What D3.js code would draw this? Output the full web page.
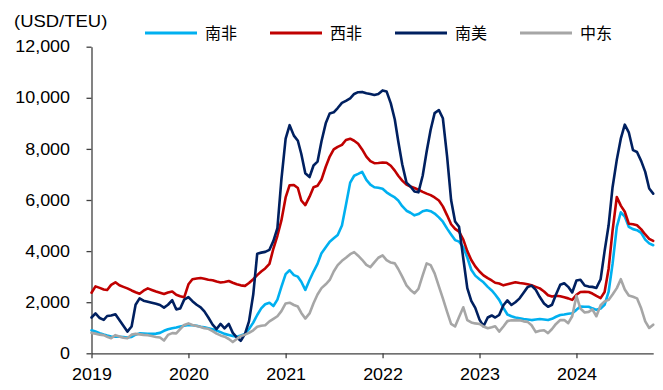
<!DOCTYPE html>
<html>
<head>
<meta charset="utf-8">
<script src="https://cdn.jsdelivr.net/npm/d3@7"></script>
<style>
  body { margin: 0; background: #fff; }
  svg { display: block; }
</style>
</head>
<body>
<svg id="chart" width="663" height="390"></svg>
<script>
// Container freight rates by route, USD/TEU, semi-monthly readings
const seriesNames = ["南非", "西非", "南美", "中东"];
const seriesColors = ["#00B0F0", "#C00000", "#002060", "#A6A6A6"];
const yTickValues = [0, 2000, 4000, 6000, 8000, 10000, 12000];
const xTickYears = [2019, 2020, 2021, 2022, 2023, 2024];
const unitLabel = "(USD/TEU)";

// Observation dates: 1st and 16th of each month, Jan 2019 – Oct 2024
const dates = d3.timeMonth.range(new Date(2019, 0, 1), new Date(2024, 10, 1))
  .flatMap(m => [m, new Date(m.getFullYear(), m.getMonth(), 16)]);

const southAfrica = [
  900, 850, 790, 740, 700, 660, 650, 650, 640, 620,
  640, 730, 780, 770, 760, 760, 770, 800, 880, 940,
  980, 1010, 1050, 1080, 1110, 1100, 1080, 1040, 1020, 980,
  940, 890, 830, 760, 720, 680, 650, 700, 760, 950,
  1200, 1500, 1760, 1920, 1980, 1850, 2100, 2600, 3100, 3250,
  3060, 3000, 2800, 2480, 2870, 3200, 3500, 3920, 4150, 4370,
  4500, 4630, 5000, 5800, 6680, 6950, 7020, 7100, 6790, 6600,
  6500, 6480, 6440, 6300, 6190, 6100, 5980, 5760, 5580, 5500,
  5400, 5450, 5560, 5600, 5560, 5470, 5320, 5150, 4880, 4650,
  4430, 4370, 4150, 3750, 3270, 3040, 2900, 2780, 2600, 2460,
  2300, 2090, 1780, 1520, 1450, 1400, 1370, 1340, 1320, 1300,
  1320, 1340, 1320, 1300, 1350, 1430, 1500, 1520, 1550, 1570,
  1700, 1830, 1820, 1820, 1760, 1700, 1750, 1900, 2400, 3500,
  4950, 5520, 5350, 4950, 4860, 4820, 4710, 4450, 4300, 4230
];

const westAfrica = [
  2370, 2620, 2560, 2500, 2480, 2680, 2780, 2660, 2600, 2540,
  2460, 2390, 2330, 2450, 2540, 2480, 2420, 2370, 2320, 2380,
  2420, 2290, 2230, 2190, 2700, 2900, 2930, 2950, 2920, 2880,
  2860, 2810, 2770, 2790, 2830, 2760, 2700, 2660, 2640, 2750,
  2900, 3060, 3200, 3320, 3500, 4100, 4600, 5200, 6100, 6580,
  6590, 6470, 5980, 5800, 6130, 6500, 6560, 6800, 7300, 7700,
  7980, 8080, 8160, 8350, 8400, 8320, 8200, 7980, 7700, 7520,
  7440, 7450, 7470, 7460, 7340, 7150, 6950, 6760, 6600, 6530,
  6470, 6400, 6320, 6250, 6190, 6100, 5980, 5750, 5400, 5050,
  4870, 4760, 4450, 4000, 3650, 3400, 3200, 3050, 2940, 2850,
  2760, 2730, 2660, 2700, 2740, 2780, 2750, 2730, 2700, 2660,
  2600, 2540, 2420, 2270, 2220, 2250, 2230, 2190, 2150, 2090,
  2290, 2400, 2410, 2400, 2340, 2250, 2160, 2400, 3300, 4800,
  6120, 5780, 5540, 5070, 5050, 5010, 4850, 4650, 4480, 4400
];

const southAmerica = [
  1400, 1560, 1380, 1310, 1460, 1480, 1530, 1300, 1080, 850,
  1050, 1900, 2150, 2060, 2020, 1980, 1940, 1890, 1790, 1900,
  2080, 1720, 1750, 2100, 2200, 2040, 1900, 1800, 1640, 1400,
  1120, 950, 1150, 980, 1150, 800, 620, 490, 760, 1250,
  2300, 3900, 3940, 3970, 4050, 4400, 4900, 6800, 8400, 8930,
  8520, 8320, 7800, 7050, 6900, 7350, 7500, 8300, 9000, 9390,
  9430, 9600, 9800, 9880, 9980, 10150, 10220, 10230, 10180, 10150,
  10110, 10150, 10290, 10250, 9780, 9150, 8300, 7400, 6680, 6530,
  6330, 6300, 6950, 7900, 8750, 9400, 9520, 9200, 7700, 6000,
  5160, 4950, 3700, 2550, 2050, 1780, 1320, 1060, 1400, 1480,
  1400, 1500, 1880, 2070, 1890, 2000, 2150, 2370, 2590, 2650,
  2480, 2200, 1950, 1820, 1900, 2300, 2680, 2740, 2600, 2380,
  2850, 2880, 2650, 2610, 2600, 2560, 2900, 4000, 5000, 6500,
  7580, 8400, 8950, 8650, 7950, 7880, 7520, 7100, 6450, 6250
];

const middleEast = [
  800, 770, 730, 710, 650, 590, 710, 660, 610, 590,
  730, 760, 740, 720, 710, 680, 640, 620, 500, 720,
  790, 780, 950, 1110, 1170, 1110, 1070, 1030, 980, 960,
  870, 770, 700, 650, 560, 440, 560, 680, 730, 800,
  900, 1040, 1080, 1100, 1250, 1350, 1450, 1650, 1950, 1980,
  1890, 1830, 1580, 1360, 1560, 1960, 2300, 2550, 2700, 2870,
  3200, 3450, 3620, 3740, 3880, 3960, 3820, 3660, 3460, 3370,
  3560, 3740, 3830, 3650, 3550, 3520, 3300, 3000, 2660, 2480,
  2350, 2520, 3050, 3520, 3450, 3130, 2620, 2150, 1620, 1150,
  1050, 1420, 1800, 1300, 1210, 1170, 1150, 1050, 980, 1020,
  1060, 850, 1050, 1260, 1290, 1300, 1290, 1250, 1230, 1100,
  830, 880, 900, 790, 950, 1150, 1300, 1300, 1180, 1450,
  2250, 1750, 1600, 1620, 1720, 1450, 1880, 2030, 2090, 2300,
  2550, 2900, 2500, 2260, 2210, 2150, 1750, 1250, 990, 1120
];

const seriesValues = [southAfrica, westAfrica, southAmerica, middleEast];

// ---- layout ----
const svg = d3.select("#chart");
const plot = { left: 91.5, right: 653.2, top: 46.7, bottom: 353.3 };
const textFont = "'Liberation Sans', Arial, sans-serif";
const cjkFont = "'Noto Sans CJK SC', sans-serif";
const stretch = "scale(1.12,1)";

const x = d3.scaleTime()
  .domain([new Date(2019, 0, 1), new Date(2024, 9, 16)])
  .range([plot.left, plot.right]);

const y = d3.scaleLinear()
  .domain([0, 12000])
  .range([plot.bottom, plot.top]);

// ---- axes ----
const yAxis = svg.append("g")
  .attr("transform", `translate(${plot.left},0)`)
  .call(d3.axisLeft(y).tickValues(yTickValues).tickSize(5).tickSizeOuter(0)
    .tickFormat(d3.format(",")));

const xAxis = svg.append("g")
  .attr("transform", `translate(0,${plot.bottom})`)
  .call(d3.axisBottom(x).tickValues(xTickYears.map(yr => new Date(yr, 0, 1)))
    .tickSize(5).tickSizeOuter(0).tickFormat(d3.timeFormat("%Y")));

[yAxis, xAxis].forEach(ax => {
  ax.select(".domain").attr("stroke", "#404040").attr("stroke-width", 1.3);
  ax.selectAll(".tick line").attr("stroke", "#404040").attr("stroke-width", 1.3);
  ax.selectAll(".tick text")
    .attr("fill", "#000")
    .style("font-family", textFont)
    .style("font-size", "16px")
    .attr("transform", stretch);
});
yAxis.selectAll(".tick text").attr("x", -19.2);
xAxis.selectAll(".tick text").attr("y", 15.5);

// unit label
svg.append("text")
  .attr("x", 14 / 1.12)
  .attr("y", 27)
  .attr("transform", stretch)
  .style("font-family", textFont)
  .style("font-size", "16.5px")
  .attr("fill", "#000")
  .text(unitLabel);

// ---- lines ----
const line = d3.line()
  .x((d, i) => x(dates[i]))
  .y(d => y(d));

svg.append("g")
  .selectAll("path")
  .data(seriesValues)
  .join("path")
  .attr("fill", "none")
  .attr("stroke", (d, i) => seriesColors[i])
  .attr("stroke-width", 2.6)
  .attr("stroke-linejoin", "round")
  .attr("stroke-linecap", "round")
  .attr("d", line);

// ---- legend ----
const legendX = [145, 270, 395, 520];
const legend = svg.append("g")
  .selectAll("g")
  .data(seriesNames)
  .join("g")
  .attr("transform", (d, i) => `translate(${legendX[i]},33)`);

legend.append("line")
  .attr("x1", 0).attr("x2", 52)
  .attr("stroke", (d, i) => seriesColors[i])
  .attr("stroke-width", 3);

legend.append("text")
  .attr("x", 60)
  .attr("y", 6)
  .style("font-family", cjkFont)
  .style("font-size", "16px")
  .attr("fill", "#000")
  .text(d => d);
</script>
</body>
</html>
